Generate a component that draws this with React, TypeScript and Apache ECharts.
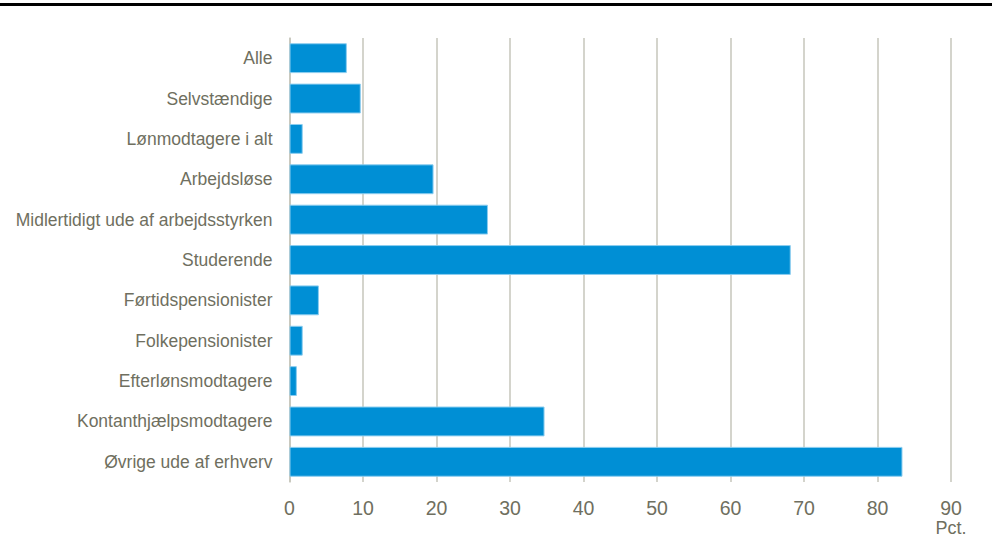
import React, { useEffect, useRef } from "react";
import * as echarts from "echarts";

const categories = [
  "Alle",
  "Selvstændige",
  "Lønmodtagere i alt",
  "Arbejdsløse",
  "Midlertidigt ude af arbejdsstyrken",
  "Studerende",
  "Førtidspensionister",
  "Folkepensionister",
  "Efterlønsmodtagere",
  "Kontanthjælpsmodtagere",
  "Øvrige ude af erhverv",
];
const values = [7.8, 9.7, 1.8, 19.6, 27.0, 68.2, 4.0, 1.8, 1.0, 34.7, 83.4];
const xMin = 0;
const xMax = 90;
const xInterval = 10;
const unitLabel = "Pct.";

const textColor = "#6f6f60";
const gridColor = "#c6c6bb";
const font = "'Liberation Sans', Arial, sans-serif";

export default function App() {
  const ref = useRef<HTMLDivElement>(null);
  useEffect(() => {
    if (!ref.current) return;
    const chart = echarts.init(ref.current, null, { renderer: "svg" });
    chart.setOption({
      animation: false,
      grid: { left: 289.5, right: 41, top: 38, height: 444, containLabel: false },
      xAxis: {
        type: "value",
        min: xMin,
        max: xMax,
        interval: xInterval,
        axisLine: { show: false },
        axisTick: { show: false },
        splitLine: { show: true, lineStyle: { color: gridColor, width: 1.5 } },
        axisLabel: { color: textColor, fontSize: 19.5, fontFamily: font, margin: 16 },
      },
      yAxis: {
        type: "category",
        inverse: true,
        data: categories,
        axisLine: { show: true, lineStyle: { color: gridColor, width: 1.5 } },
        axisTick: { show: false },
        axisLabel: {
          color: textColor,
          fontSize: 17.5,
          fontFamily: font,
          margin: 17,
        },
      },
      series: [
        {
          type: "bar",
          data: values,
          barCategoryGap: "26%",
          itemStyle: { color: "#008fd5", borderColor: "#8ccdef", borderWidth: 1 },
        },
      ],
    });
    const px = chart.convertToPixel({ xAxisIndex: 0 }, xMax) as number;
    chart.setOption({
      graphic: [
        {
          type: "rect",
          shape: { x: 0, y: 3, width: 992, height: 3 },
          style: { fill: "#000000" },
        },
        {
          type: "text",
          x: px,
          y: 519,
          style: {
            text: unitLabel,
            fill: textColor,
            font: `18px ${font}`,
            align: "center",
            verticalAlign: "top",
          },
        },
      ],
    });
    return () => chart.dispose();
  }, []);
  return (
    <div
      ref={ref}
      style={{ position: "fixed", left: 0, top: 0, width: 992, height: 538, background: "#ffffff" }}
    />
  );
}
